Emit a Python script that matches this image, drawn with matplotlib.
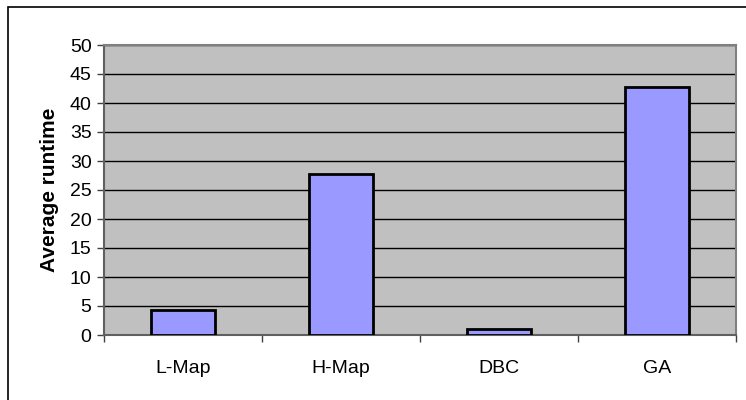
import matplotlib.pyplot as plt
import numpy as np

plt.rcParams['font.family'] = ['Liberation Sans', 'DejaVu Sans']

methods = ['L-Map', 'H-Map', 'DBC', 'GA']
runtime = [4.3, 27.7, 1.0, 42.8]
yticks = np.arange(0, 51, 5)

fig = plt.figure(figsize=(7.46, 4.0), dpi=100)
# outer chart frame (left and top edges show)
fig.patches.append(plt.Rectangle((8 / 746, -0.1), 1.2, (400 - 7) / 400 + 0.1,
                                 transform=fig.transFigure, fill=False,
                                 edgecolor='black', linewidth=1.2))

ax = fig.add_axes([104 / 746, 1 - 335 / 400, 632 / 746, 290 / 400])
ax.set_facecolor('#c0c0c0')

x = np.arange(len(methods))
ax.bar(x, runtime, width=0.405, color='#9999ff', edgecolor='black',
       linewidth=2, zorder=3)

ax.set_xlim(-0.5, len(methods) - 0.5)
ax.set_ylim(0, 50)
ax.set_yticks(yticks)
ax.yaxis.grid(True, color='black', linewidth=1, zorder=1)
ax.set_axisbelow(True)

# category ticks sit between the bars
ax.set_xticks(np.arange(-0.5, len(methods)), minor=False)
ax.set_xticklabels([])
ax.set_xticks(x, minor=True)
ax.set_xticklabels(methods, minor=True, fontsize=14)
ax.tick_params(axis='x', which='minor', length=0, pad=18)
ax.tick_params(axis='x', which='major', length=5, width=1, color='#404040',
               direction='out')
ax.tick_params(axis='y', length=5, width=1, color='#404040', labelsize=14,
               pad=4)

for side in ['top', 'right']:
    ax.spines[side].set_color('#808080')
    ax.spines[side].set_linewidth(1.5)
ax.spines['left'].set_color('#606060')
ax.spines['bottom'].set_color('#606060')
ax.spines['left'].set_linewidth(1.5)
ax.spines['bottom'].set_linewidth(1.5)

ax.set_ylabel('Average runtime', fontsize=15, fontweight='bold', labelpad=8)

fig.savefig('out.png', dpi=100)
